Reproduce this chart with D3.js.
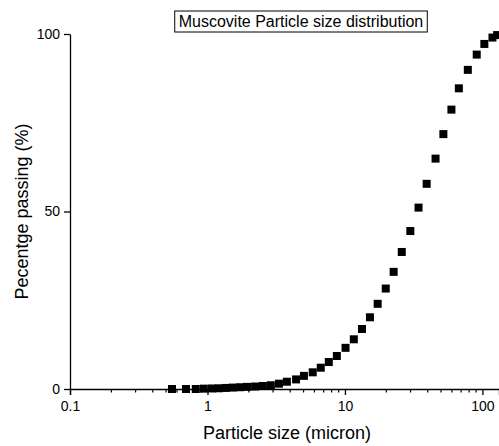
<!DOCTYPE html>
<html>
<head>
<meta charset="utf-8">
<script src="https://cdn.jsdelivr.net/npm/d3@7"></script>
<style>
  body { margin: 0; background: #fff; }
  text { font-family: Arial, "Liberation Sans", sans-serif; fill: #000; }
</style>
</head>
<body>
<div id="chart"></div>
<script>
// particle size (micron) and cumulative percent passing
const sizes = [0.552, 0.698, 0.822, 0.941, 1.077, 1.21, 1.36, 1.53, 1.73, 1.94,
    2.22, 2.53, 2.89, 3.31, 3.78, 4.41, 5.03, 5.83, 6.67, 7.63,
    8.73, 10.1, 11.6, 13.3, 15.2, 17.3, 19.8, 22.6, 25.9, 29.9,
    34.3, 39.3, 45.6, 52.0, 59.5, 67.4, 78.3, 90.9, 103.3, 118.3, 127.9]
const passing = [0, 0, 0, 0.1, 0.15, 0.2, 0.3, 0.4, 0.5, 0.6,
    0.7, 0.85, 1.05, 1.5, 2.05, 2.7, 3.7, 4.7, 6.0, 7.6,
    9.3, 11.6, 14.0, 16.9, 20.2, 24.0, 28.3, 33.0, 38.6, 44.5,
    51.1, 57.8, 64.9, 71.8, 78.7, 84.7, 89.9, 94.2, 97.2, 99.0, 99.7]

const xMajor = [0.1, 1, 10, 100]
const yTicks = [0, 50, 100]
const title = 'Muscovite Particle size distribution'

const width = 499
const height = 446
const margin = { top: 34, right: 0, bottom: 57, left: 70 }

const svg = d3.select('#chart')
    .append('svg')
    .attr('width', width)
    .attr('height', height)

// log scale, one decade is about 137.5px
const xScale = d3.scaleLog()
    .domain([0.1, 132])
    .range([margin.left, width - margin.right])

const yScale = d3.scaleLinear()
    .domain([0, 100])
    .range([height - margin.bottom, margin.top])

// minor ticks 2..9 in each decade
const xMinor = []
xMajor.forEach(d => {
    for (let k = 2; k <= 9; k++) {
        const v = d * k
        if (v <= 132) xMinor.push(v)
    }
})

const xAxis = svg.append('g')
    .attr('transform', `translate(0,${yScale(0)})`)
    .call(d3.axisBottom(xScale)
        .tickValues(xMajor)
        .tickFormat(d => d3.format('~g')(d))
        .tickSize(6)
        .tickPadding(6))

xAxis.select('.domain').attr('stroke-width', 1.3)
xAxis.selectAll('line').attr('stroke-width', 1.3)
xAxis.selectAll('text').attr('font-size', 14)

svg.append('g')
    .selectAll('line')
    .data(xMinor)
    .enter()
    .append('line')
    .attr('x1', d => xScale(d))
    .attr('x2', d => xScale(d))
    .attr('y1', yScale(0))
    .attr('y2', yScale(0) + 3.5)
    .attr('stroke', '#000')
    .attr('stroke-width', 1.2)

const yAxis = svg.append('g')
    .attr('transform', `translate(${margin.left},0)`)
    .call(d3.axisLeft(yScale)
        .tickValues(yTicks)
        .tickSize(6)
        .tickPadding(4)
        .tickSizeOuter(0))

yAxis.select('.domain').attr('stroke-width', 1.3)
yAxis.selectAll('line').attr('stroke-width', 1.3)
yAxis.selectAll('text').attr('font-size', 14)

// axis titles
svg.append('text')
    .attr('x', 287)
    .attr('y', 439)
    .attr('text-anchor', 'middle')
    .attr('font-size', 18)
    .text('Particle size (micron)')

svg.append('text')
    .attr('transform', `translate(28,${yScale(50)}) rotate(-90)`)
    .attr('text-anchor', 'middle')
    .attr('font-size', 18)
    .text('Pecentge passing (%)')

// boxed title
const titleText = svg.append('text')
    .attr('x', 301)
    .attr('y', 27)
    .attr('text-anchor', 'middle')
    .attr('font-size', 16)
    .text(title)

const bb = titleText.node().getBBox()
svg.insert('rect', () => titleText.node())
    .attr('x', bb.x - 4)
    .attr('y', 11)
    .attr('width', bb.width + 8)
    .attr('height', 21)
    .attr('fill', '#fff')
    .attr('stroke', '#000')
    .attr('stroke-width', 1)

// square markers
const s = 8
svg.append('g')
    .selectAll('rect')
    .data(sizes.map((d, i) => [d, passing[i]]))
    .enter()
    .append('rect')
    .attr('x', d => xScale(d[0]) - s / 2)
    .attr('y', d => yScale(d[1]) - s / 2)
    .attr('width', s)
    .attr('height', s)
    .attr('fill', '#000')
</script>
</body>
</html>
